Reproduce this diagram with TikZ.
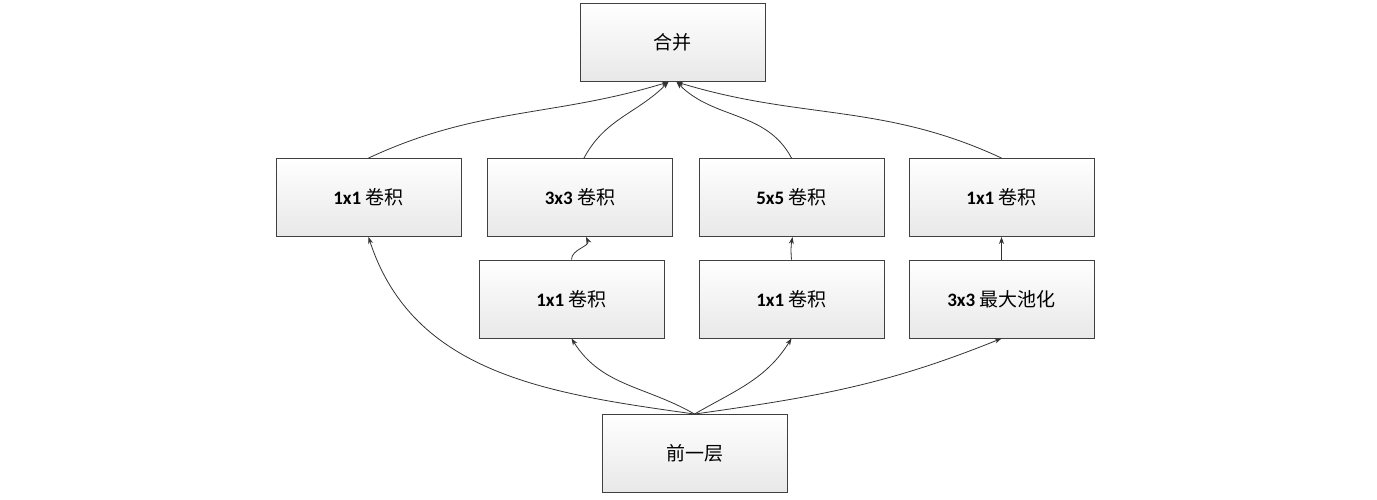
\documentclass[tikz,border=0pt]{standalone}
\usepackage{fontspec}
\setmainfont{Carlito}
\newfontfamily\cjk{Noto Sans CJK SC}
\usetikzlibrary{arrows.meta}
\newcommand{\lbl}[2]{\textbf{#1}\ {\cjk #2}}
\begin{document}
\begin{tikzpicture}[x=1pt,y=1pt,
  box/.style={draw=black!75, line width=0.9pt, top color=white, bottom color=black!9,
    minimum width=185pt, minimum height=78pt, inner sep=0pt, font=\fontsize{19}{22}\selectfont},
  conn/.style={draw=black!80, line width=0.8pt, -{Stealth[length=7pt,width=5pt]}}]
\useasboundingbox (0,0) rectangle (1377,499);
% y = 499 - pixel y
\node[box] (merge) at (672.5,456.5) {\cjk 合并};
\node[box] (c1a) at (368.5,301.5) {\lbl{1x1}{卷积}};
\node[box] (c3) at (580,301.5) {\lbl{3x3}{卷积}};
\node[box] (c5) at (791.5,301.5) {\lbl{5x5}{卷积}};
\node[box] (c1d) at (1001.5,301.5) {\lbl{1x1}{卷积}};
\node[box] (r1b) at (571.5,200) {\lbl{1x1}{卷积}};
\node[box] (r1c) at (791.5,200) {\lbl{1x1}{卷积}};
\node[box] (pool) at (1001.5,200) {\lbl{3x3}{最大池化}};
\node[box] (prev) at (694.5,45.5) {\cjk 前一层};
\coordinate (mL) at ([xshift=-4pt]merge.south);
\coordinate (mR) at ([xshift=4pt]merge.south);
% bottom fan-out
\draw[conn] (prev.north) to[out=172,in=-72] (c1a.south);
\draw[conn] (prev.north) to[out=150,in=-58] (r1b.south);
\draw[conn] (prev.north) to[out=30,in=-122] (r1c.south);
\draw[conn] (prev.north) to[out=8,in=-158] (pool.south);
% middle short arrows
\draw[conn] (r1b.north) to[out=90,in=-65] ([xshift=6pt]c3.south);
\draw[conn] (r1c.north) to[out=95,in=-100] ([xshift=1pt]c5.south);
\draw[conn] (pool.north) -- (c1d.south);
% to merge
\draw[conn] (c1a.north) to[out=25,in=-163] (mL);
\draw[conn] ([xshift=4pt]c3.north) to[out=62,in=-135] (mL);
\draw[conn] (c5.north) to[out=118,in=-45] (mR);
\draw[conn] (c1d.north) to[out=155,in=-17] (mR);
\end{tikzpicture}
\end{document}
